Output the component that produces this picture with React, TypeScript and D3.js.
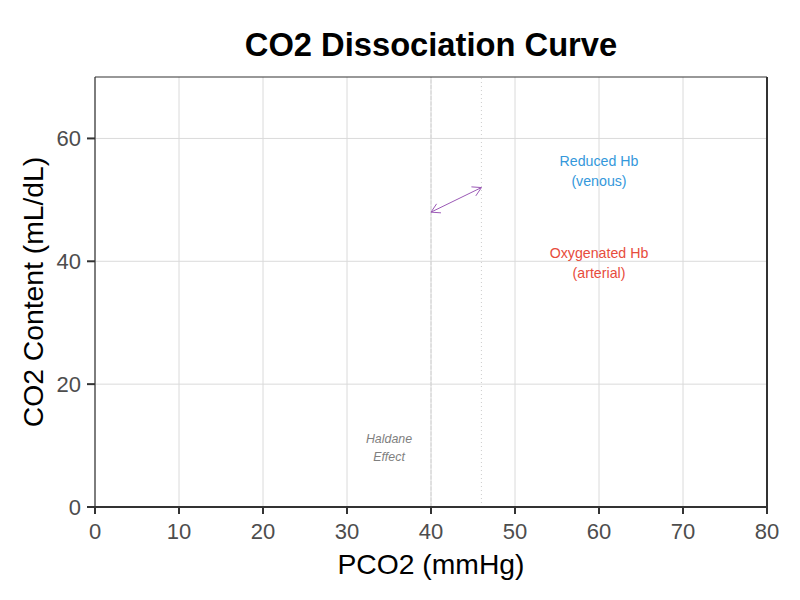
import React from "react";
import * as d3 from "d3";

const xTicks = [0, 10, 20, 30, 40, 50, 60, 70, 80];
const yTicks = [0, 20, 40, 60];
const xDomain = [0, 80];
const yDomain = [0, 70];

const labelTexts = ["Reduced Hb\n(venous)", "Oxygenated Hb\n(arterial)", "Haldane\nEffect"];
const labelX = [60, 60, 35];
const labelY = [55, 40, 10];
const labelColors = ["#3498db", "#e74c3c", "#7f7f7f"];
const labelItalic = [false, false, true];
const labelSizes = [14.2, 14.2, 12.4];

const arrowFrom = [40, 48];
const arrowTo = [46, 52];
const dashedVLine = 40;
const dottedVLine = 46;

export default function App() {
  const W = 800, H = 600;
  const m = { left: 95, right: 33, top: 77, bottom: 93 };
  const x = d3.scaleLinear().domain(xDomain).range([m.left, W - m.right]);
  const y = d3.scaleLinear().domain(yDomain).range([H - m.bottom, m.top]);
  const font = "'Liberation Sans', Arial, sans-serif";
  const x0 = x.range()[0], x1 = x.range()[1];
  const y0 = y.range()[0], y1 = y.range()[1];

  const ax1 = x(arrowFrom[0]), ay1 = y(arrowFrom[1]);
  const ax2 = x(arrowTo[0]), ay2 = y(arrowTo[1]);
  const ang = Math.atan2(ay2 - ay1, ax2 - ax1);
  const headLen = 10, headAng = Math.PI / 6;
  const head = (px: number, py: number, a: number) => {
    const p1 = [px - headLen * Math.cos(a - headAng), py - headLen * Math.sin(a - headAng)];
    const p2 = [px - headLen * Math.cos(a + headAng), py - headLen * Math.sin(a + headAng)];
    return `M${p1[0]},${p1[1]}L${px},${py}L${p2[0]},${p2[1]}`;
  };

  return (
    <svg width={W} height={H} style={{ display: "block", position: "absolute", left: 0, top: 0 }} fontFamily={font}>
      <rect width={W} height={H} fill="white" />
      {xTicks.map((t) => (
        <line key={"gx" + t} x1={x(t)} x2={x(t)} y1={y0} y2={y1} stroke="#dadada" strokeWidth={1} />
      ))}
      {yTicks.map((t) => (
        <line key={"gy" + t} x1={x0} x2={x1} y1={y(t)} y2={y(t)} stroke="#dadada" strokeWidth={1} />
      ))}
      <line x1={x(dashedVLine)} x2={x(dashedVLine)} y1={y0} y2={y1} stroke="#d2d2d2" strokeWidth={1} strokeDasharray="4,1.5" />
      <line x1={x(dottedVLine)} x2={x(dottedVLine)} y1={y0} y2={y1} stroke="#cccccc" strokeWidth={1} strokeDasharray="1,3" />

      <g stroke="#9b59b6" strokeWidth={1} fill="none">
        <line x1={ax1} y1={ay1} x2={ax2} y2={ay2} />
        <path d={head(ax2, ay2, ang)} />
        <path d={head(ax1, ay1, ang + Math.PI)} />
      </g>

      {labelTexts.map((t, i) => {
        const lines = t.split("\n");
        const lh = labelSizes[i] * 1.42;
        const cy = y(labelY[i]);
        return (
          <text key={"lab" + i} x={x(labelX[i])} textAnchor="middle" fill={labelColors[i]} fontSize={labelSizes[i]}
            fontStyle={labelItalic[i] ? "italic" : "normal"}>
            {lines.map((l, j) => (
              <tspan key={j} x={x(labelX[i])} y={cy + (j - (lines.length - 1) / 2) * lh} dy="0.5em">{l}</tspan>
            ))}
          </text>
        );
      })}

      {/* panel border */}
      <line x1={x0} x2={x1} y1={y1} y2={y1} stroke="#333" strokeWidth={1.2} />
      <line x1={x0} x2={x0} y1={y1} y2={y0} stroke="#333" strokeWidth={1.2} />
      <line x1={x1} x2={x1} y1={y1} y2={y0} stroke="#333" strokeWidth={2} />
      <line x1={x0 - 8} x2={x1 + 1} y1={y0} y2={y0} stroke="#333" strokeWidth={2} />

      {xTicks.map((t) => (
        <g key={"xt" + t}>
          <line x1={x(t)} x2={x(t)} y1={y0} y2={y0 + 7} stroke="#333" strokeWidth={2} />
          <text x={x(t)} y={539} textAnchor="middle" fontSize={22} fill="#4d4d4d">{t}</text>
        </g>
      ))}
      {yTicks.map((t) => (
        <g key={"yt" + t}>
          <line x1={x0 - 8} x2={x0} y1={y(t)} y2={y(t)} stroke="#333" strokeWidth={2} />
          <text x={81} y={y(t)} dy="0.36em" textAnchor="end" fontSize={22} fill="#4d4d4d">{t}</text>
        </g>
      ))}

      <text x={(x0 + x1) / 2} y={574} textAnchor="middle" fontSize={28.3} fill="black">PCO2 (mmHg)</text>
      <text transform={`translate(43,${(y0 + y1) / 2}) rotate(-90)`} textAnchor="middle" fontSize={28.3} fill="black">CO2 Content (mL/dL)</text>
      <text x={(x0 + x1) / 2} y={56} textAnchor="middle" fontSize={32.7} fontWeight="bold" fill="black">CO2 Dissociation Curve</text>
    </svg>
  );
}
